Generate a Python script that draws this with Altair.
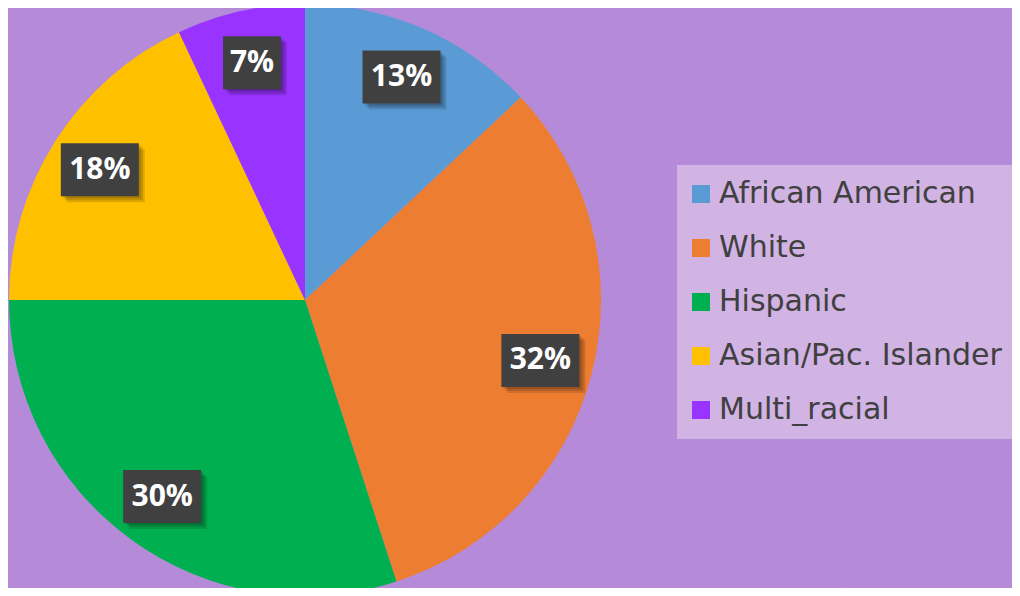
import altair as alt
import pandas as pd

categories = ["African American", "White", "Hispanic", "Asian/Pac. Islander", "Multi_racial"]
values = [13, 32, 30, 18, 7]
colors = ["#5B9BD5", "#ED7D31", "#00B050", "#FFC000", "#9933FF"]

W, H = 1004, 580
CX, CY, R = 297, 292, 296
LR = 243
BG = "#B98EDC"

df = pd.DataFrame({"category": categories, "value": values, "order": list(range(len(values)))})
ring_df = pd.DataFrame({"k": list(range(6))})

xs = alt.Scale(domain=[0, W], range=[0, W])
ys = alt.Scale(domain=[0, H], range=[0, H])

shadow = alt.Chart(ring_df).mark_arc(theta=0, theta2=6.2832, color="#5A2D80", opacity=0.035).encode(
    x=alt.value(CX + 2), y=alt.value(CY + 3),
    radius=alt.Radius("r:Q", scale=None),
).transform_calculate(r=f"{R}+4*(datum.k+1)")

pie = alt.Chart(df).mark_arc(radius=R, stroke=None).encode(
    theta=alt.Theta("value:Q", stack=True),
    order=alt.Order("order:Q"),
    color=alt.Color(
        "category:N",
        scale=alt.Scale(domain=categories, range=colors),
        legend=alt.Legend(
            orient="none", legendX=669, legendY=157, direction="vertical", title=None,
            fillColor="#D1B3E4", padding=14, symbolType="square", symbolSize=324,
            symbolStrokeWidth=0, symbolOpacity=1, symbolOffset=-5,
            labelFont="DejaVu Sans", labelFontSize=30,
            labelColor="#404040", rowPadding=24, labelOffset=3, labelLimit=500,
        ),
    ),
    x=alt.value(CX), y=alt.value(CY),
)

base = alt.Chart(df).transform_joinaggregate(total="sum(value)").transform_window(
    cum="sum(value)", sort=[alt.SortField("order")], frame=[None, 0]
).transform_calculate(
    mid="2*PI*(datum.cum - datum.value/2)/datum.total",
    lx=f"{CX}+{LR}*sin(datum.mid)",
    ly=f"{CY}-{LR}*cos(datum.mid)",
    label="format(datum.value/datum.total, '.0%')",
    bw="18+20*length(datum.label)",
).transform_calculate(
    x0="datum.lx - datum.bw/2", x1="datum.lx + datum.bw/2",
    y0="datum.ly - 26.5", y1="datum.ly + 26.5",
)

shadow_layers = []
for s in [2, 4, 6]:
    shadow_layers.append(
        base.transform_calculate(
            sx0=f"datum.x0 + {s}", sx1=f"datum.x1 + {s}",
            sy0=f"datum.y0 + {s}", sy1=f"datum.y1 + {s}",
        ).mark_rect(color="#000000", opacity=0.13).encode(
            x=alt.X("sx0:Q", scale=xs, axis=None), x2="sx1:Q",
            y=alt.Y("sy0:Q", scale=ys, axis=None), y2="sy1:Q",
        )
    )

box = base.mark_rect(color="#404040").encode(
    x=alt.X("x0:Q", scale=xs, axis=None), x2="x1:Q",
    y=alt.Y("y0:Q", scale=ys, axis=None), y2="y1:Q",
)
text = base.mark_text(font="Open Sans", fontSize=30, fontWeight="bold", color="white",
                      align="center", baseline="middle").encode(
    x=alt.X("lx:Q", scale=xs, axis=None),
    y=alt.Y("ly:Q", scale=ys, axis=None),
    text="label:N",
)

chart = alt.layer(shadow, pie, *shadow_layers, box, text).properties(
    width=W, height=H, autosize="none", padding=0, background=BG
).configure_view(stroke=None)

chart.save("out.html", embed_options={"renderer": "svg", "actions": False})
